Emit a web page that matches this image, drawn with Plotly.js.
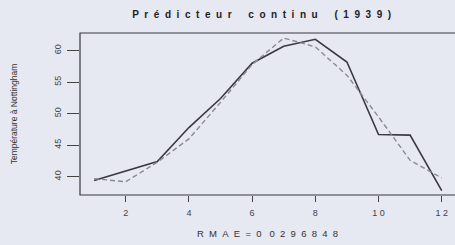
<!DOCTYPE html>
<html>
<head>
<meta charset="utf-8">
<script src="https://cdn.plot.ly/plotly-3.0.1.min.js"></script>
<style>
html,body{margin:0;padding:0;background:#e6e8f2;}
#chart{width:455px;height:245px;}
</style>
</head>
<body>
<div id="chart"></div>
<script>
var months = [1,2,3,4,5,6,7,8,9,10,11,12];
var observed = [39.4,40.9,42.4,47.8,52.4,58.0,60.7,61.8,58.2,46.7,46.6,37.8];
var predicted = [39.7,39.2,42.3,46.0,51.8,57.8,62.0,60.6,56.1,49.5,42.6,39.8];
var xTickVals = [2,4,6,8,10,12];
var xTickText = ['2','4','6','8','1\u00a00','1\u00a02'];
var yTickVals = [40,45,50,55,60];
var yTickText = ['40','45','50','55','60'];
var titleWords = ['Prédicteur','continu','(1939)'];
var xTitleWords = ['RMAE=0','0296848'];
var yTitleText = 'Température à Nottingham';

function spaced(words, letterGap, wordGap){
  return words.map(function(w){ return w.split('').join(letterGap); }).join(wordGap);
}
var NB = '\u00a0';
var titleText = spaced(titleWords, NB+NB, NB+NB+NB+NB+NB+NB);
var xTitleText = spaced(xTitleWords, NB+NB, NB+NB+NB);

var traces = [
  {x: months, y: observed, type:'scatter', mode:'lines',
   line:{color:'#3a3a3e', width:1.6}, hoverinfo:'skip'},
  {x: months, y: predicted, type:'scatter', mode:'lines',
   line:{color:'#8a8b92', width:1.4, dash:'5px,3px'}, hoverinfo:'skip'}
];

var layout = {
  width:455, height:245,
  paper_bgcolor:'#e6e8f2', plot_bgcolor:'#e6e8f2',
  margin:{l:80, r:0, t:33, b:50},
  showlegend:false,
  font:{family:'Liberation Sans, Arial, sans-serif', color:'#333'},
  title:{text:titleText, x:0.575, xanchor:'center', y:0.94, yanchor:'middle',
         font:{size:10, color:'#222', family:'Liberation Sans, Arial, sans-serif', weight:'bold'}},
  xaxis:{range:[0.554,12.42], tickvals:xTickVals, ticktext:xTickText,
         showgrid:false, zeroline:false, showline:false,
         ticks:'outside', ticklen:6, tickcolor:'#444', tickwidth:1,
         ticklabelstandoff:3,
         tickfont:{size:9, color:'#444'},
         title:{text:xTitleText, standoff:13, font:{size:9.5, color:'#333'}}},
  yaxis:{range:[37.1,62.8], tickvals:yTickVals, ticktext:yTickText,
         showgrid:false, zeroline:false, showline:false,
         ticks:'outside', ticklen:12, tickcolor:'#444', tickwidth:1,
         ticklabelstandoff:2,
         tickangle:-90, tickfont:{size:9, color:'#444'},
         title:{text:yTitleText, standoff:34, font:{size:8.5, color:'#333'}}},
  shapes:[
    {type:'path', xref:'paper', yref:'paper',
     path:'M 1.05 1 L 0 1 L 0 0 L 1.05 0',
     line:{color:'#3a3a3e', width:1.2}}
  ]
};

Plotly.newPlot('chart', traces, layout, {staticPlot:true, displayModeBar:false});
</script>
</body>
</html>
